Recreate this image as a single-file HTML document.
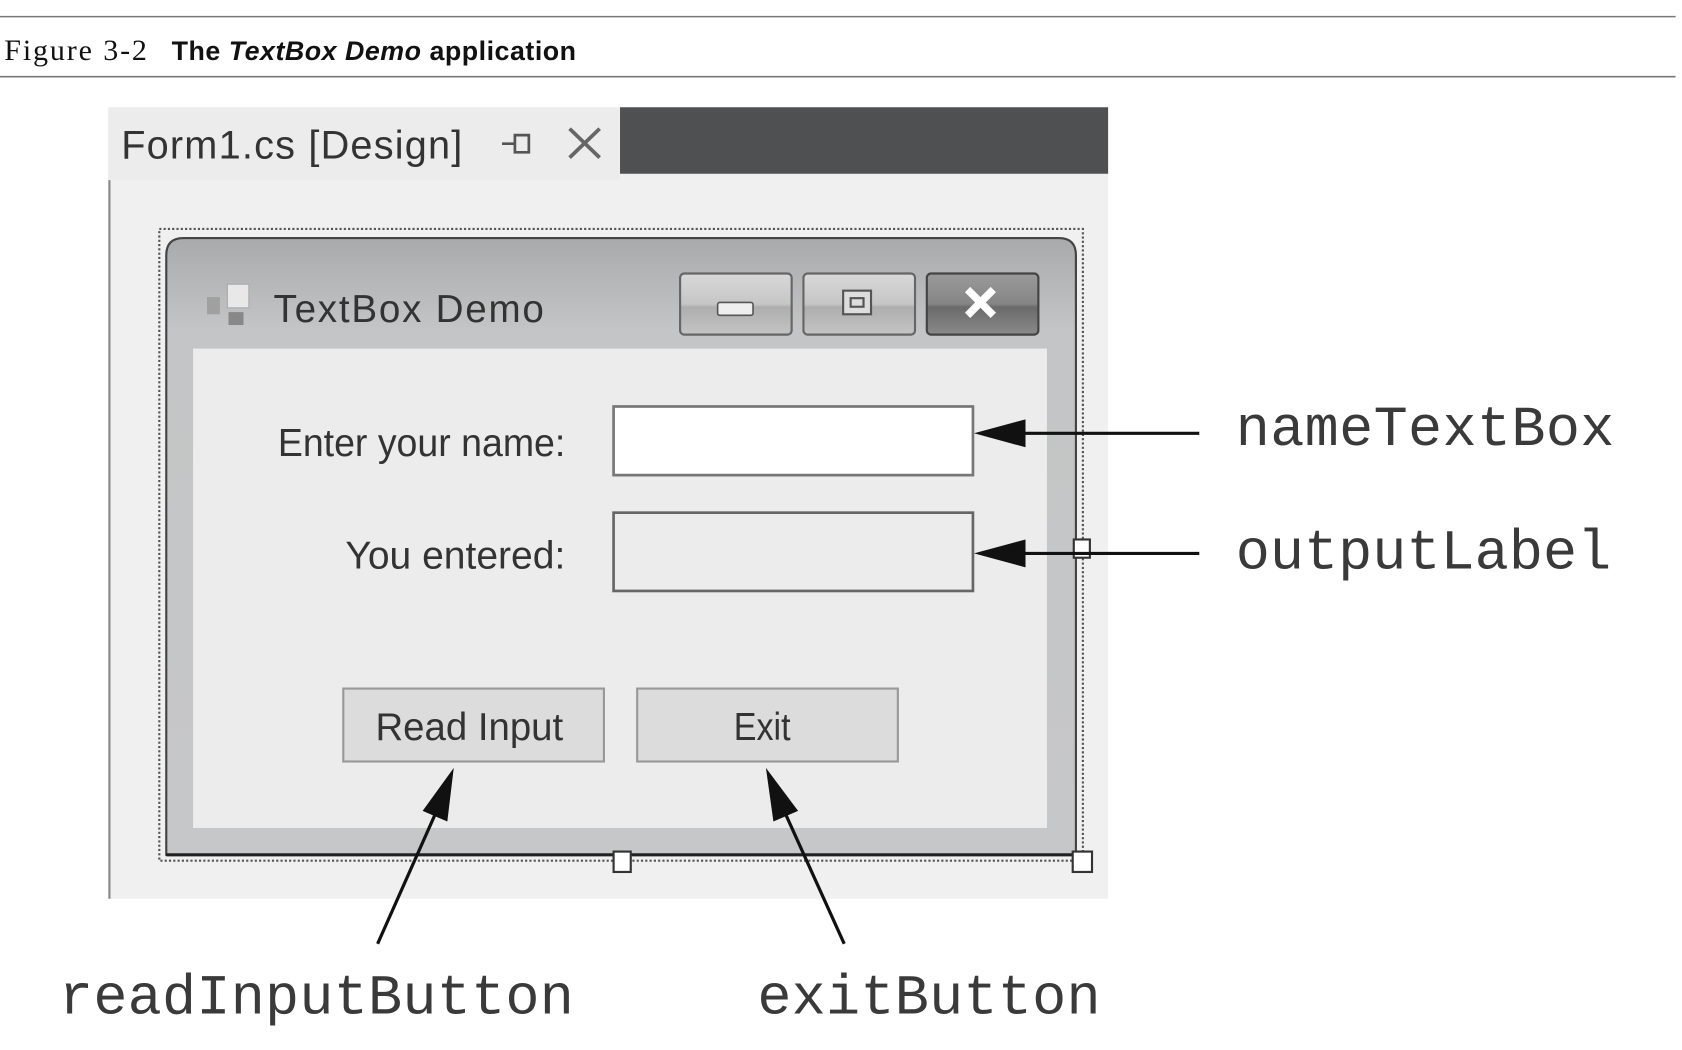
<!DOCTYPE html>
<html><head><style>html,body{margin:0;padding:0;background:#fff;width:1682px;height:1050px;overflow:hidden}</style></head>
<body>
<svg width="1682" height="1050" viewBox="0 0 1568 979" preserveAspectRatio="none" xmlns="http://www.w3.org/2000/svg">
<defs>
<linearGradient id="frame" x1="0" y1="0" x2="0" y2="1">
<stop offset="0" stop-color="#a9aaab"/><stop offset="0.15" stop-color="#c4c5c6"/><stop offset="1" stop-color="#c6c7c8"/></linearGradient>
<linearGradient id="btn" x1="0" y1="0" x2="0" y2="1">
<stop offset="0" stop-color="#d8d8d8"/><stop offset="0.5" stop-color="#c6c6c6"/><stop offset="0.55" stop-color="#aeaeae"/><stop offset="1" stop-color="#c4c4c4"/></linearGradient>
<linearGradient id="cbtn" x1="0" y1="0" x2="0" y2="1">
<stop offset="0" stop-color="#9a9a9a"/><stop offset="0.5" stop-color="#858585"/><stop offset="0.55" stop-color="#6a6a6a"/><stop offset="1" stop-color="#8a8a8a"/></linearGradient>
</defs>
<line x1="0" y1="15.5" x2="1562" y2="15.5" stroke="#777" stroke-width="1.5"/>
<line x1="0" y1="71.5" x2="1562" y2="71.5" stroke="#777" stroke-width="1.5"/>
<text x="4" y="56" font-family="Liberation Serif, serif" font-size="28" fill="#111" textLength="133">Figure 3-2</text>
<text x="160" y="56" font-family="Liberation Sans, sans-serif" font-size="25" font-weight="bold" fill="#111" textLength="377">The <tspan font-style="italic">TextBox Demo</tspan> application</text>

<rect x="101" y="100" width="932" height="738" fill="#f0f0f0"/>
<rect x="101" y="100" width="477" height="68" fill="#ececec"/>
<rect x="578" y="100" width="455" height="62" fill="#4f5052"/>
<line x1="102" y1="168" x2="102" y2="838" stroke="#888" stroke-width="2"/>
<text x="113" y="148" font-family="Liberation Sans, sans-serif" font-size="37" fill="#333" textLength="318">Form1.cs [Design]</text>
<path d="M468 134 H480 M480 126 V142 H493 V126 Z" stroke="#555" stroke-width="2.5" fill="none"/>
<path d="M531 120 L559 147 M559 120 L531 147" stroke="#666" stroke-width="3.5"/>

<rect x="148.5" y="213.5" width="861" height="589" fill="none" stroke="#555" stroke-width="2" stroke-dasharray="2 2"/>
<path d="M155 797 V238 Q155 222 171 222 H987 Q1003 222 1003 238 V797 Z" fill="url(#frame)" stroke="#444" stroke-width="2"/>
<line x1="155" y1="797" x2="1003" y2="797" stroke="#222" stroke-width="3"/>
<rect x="180" y="325" width="796" height="447" fill="#ececec"/>
<rect x="193" y="277" width="12" height="16" fill="#999" opacity="0.8"/>
<rect x="212" y="265" width="20" height="22" fill="#e8e8e8" stroke="#aaa"/>
<rect x="213" y="291" width="14" height="12" fill="#888"/>
<text x="255" y="300" font-family="Liberation Sans, sans-serif" font-size="36" fill="#333" textLength="252">TextBox Demo</text>
<rect x="634" y="255" width="104" height="57" rx="4" fill="url(#btn)" stroke="#666" stroke-width="2"/>
<rect x="749" y="255" width="104" height="57" rx="4" fill="url(#btn)" stroke="#666" stroke-width="2"/>
<rect x="864" y="255" width="104" height="57" rx="4" fill="url(#cbtn)" stroke="#444" stroke-width="2"/>
<rect x="669" y="282" width="33" height="12" rx="2" fill="#eee" stroke="#555" stroke-width="1.5"/>
<rect x="786" y="271" width="26" height="22" fill="#ddd" stroke="#555" stroke-width="2"/>
<rect x="793" y="278" width="12" height="8" fill="none" stroke="#555" stroke-width="2"/>
<path d="M902 270 L926 294 M926 270 L902 294" stroke="#fff" stroke-width="7"/>

<text x="259" y="425" font-family="Liberation Sans, sans-serif" font-size="36" fill="#333" textLength="268" lengthAdjust="spacingAndGlyphs">Enter your name:</text>
<rect x="572" y="379" width="335" height="64" fill="#fff" stroke="#777" stroke-width="2.5"/>
<text x="322" y="530" font-family="Liberation Sans, sans-serif" font-size="36" fill="#333" textLength="205" lengthAdjust="spacingAndGlyphs">You entered:</text>
<rect x="572" y="478" width="335" height="73" fill="#ececec" stroke="#666" stroke-width="2.5"/>
<rect x="320" y="642" width="243" height="68" fill="#dcdcdc" stroke="#999" stroke-width="2"/>
<text x="350" y="690" font-family="Liberation Sans, sans-serif" font-size="36" fill="#333" textLength="175" lengthAdjust="spacingAndGlyphs">Read Input</text>
<rect x="594" y="642" width="243" height="68" fill="#dcdcdc" stroke="#999" stroke-width="2"/>
<text x="684" y="690" font-family="Liberation Sans, sans-serif" font-size="36" fill="#333" textLength="53" lengthAdjust="spacingAndGlyphs">Exit</text>

<rect x="1001" y="503" width="15" height="17" fill="#fff" stroke="#333" stroke-width="2"/>
<rect x="572" y="794" width="16" height="19" fill="#fff" stroke="#333" stroke-width="2"/>
<rect x="1000" y="794" width="18" height="19" fill="#fff" stroke="#333" stroke-width="2"/>

<line x1="950" y1="404" x2="1118" y2="404" stroke="#111" stroke-width="3"/>
<polygon points="908,404 956,391 956,417" fill="#111"/>
<line x1="950" y1="516" x2="1118" y2="516" stroke="#111" stroke-width="3"/>
<polygon points="908,516 956,503 956,529" fill="#111"/>
<line x1="352" y1="880" x2="412" y2="745" stroke="#111" stroke-width="3"/>
<polygon points="423,716 417,766 394,756" fill="#111"/>
<line x1="787" y1="880" x2="726" y2="745" stroke="#111" stroke-width="3"/>
<polygon points="714,716 744,756 721,766" fill="#111"/>

<g font-family="Liberation Mono, monospace" font-size="53" fill="#3a3a3a">
<text x="1152" y="415" textLength="353">nameTextBox</text>
<text x="1152" y="530" textLength="350">outputLabel</text>
<text x="55" y="945" textLength="480">readInputButton</text>
<text x="706" y="945" textLength="320">exitButton</text>
</g>
</svg>
</body></html>
